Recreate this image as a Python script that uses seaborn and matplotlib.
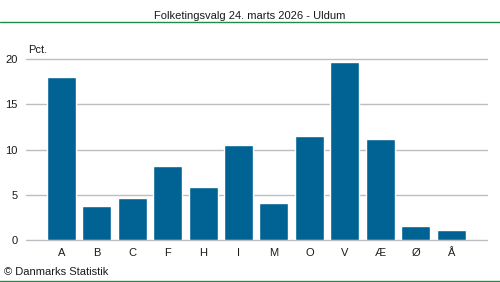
import matplotlib
matplotlib.use("Agg")
import matplotlib.pyplot as plt
import seaborn as sns
import pandas as pd

parties = ["A", "B", "C", "F", "H", "I", "M", "O", "V", "Æ", "Ø", "Å"]
values = [18.0, 3.8, 4.7, 8.2, 5.9, 10.5, 4.1, 11.5, 19.7, 11.2, 1.5, 1.1]
yticks = [0, 5, 10, 15, 20]
title = "Folketingsvalg 24. marts 2026 - Uldum"
unit = "Pct."
credit = "© Danmarks Statistik"

sns.set_theme(style="white")
plt.rcParams["font.family"] = ["Liberation Sans", "DejaVu Sans"]

df = pd.DataFrame({"parti": parties, "pct": values})

fig = plt.figure(figsize=(5.0, 2.82), dpi=100)
ax = fig.add_axes([0.052, 0.149, 0.921, 0.641])

sns.barplot(data=df, x="parti", y="pct", color="#006394", saturation=1,
            width=0.82, ax=ax, zorder=3)

ax.set_xlim(-1, 12)
ax.set_ylim(0, 20)
ax.set_yticks(yticks)
ax.set_yticklabels([str(t) for t in yticks])
ax.yaxis.grid(True, color="#bdbdc3", linewidth=1.0, zorder=0)
ax.set_axisbelow(True)
for s in ax.spines.values():
    s.set_visible(False)
ax.set_xlabel("")
ax.set_ylabel("")
ax.tick_params(axis="both", length=0, labelsize=8, colors="#1a1a1a")
ax.tick_params(axis="y", pad=6)
ax.tick_params(axis="x", pad=6)
for g in ax.get_ygridlines():
    g.set_clip_on(False)

fig.text(0.5, 0.945, title, ha="center", va="center", fontsize=8, color="#1a1a1a")
fig.text(0.056, 0.822, unit, ha="left", va="center", fontsize=8, color="#1a1a1a")
fig.text(0.008, 0.036, credit, ha="left", va="center", fontsize=8, color="#1a1a1a")

fig.add_artist(plt.Line2D([0, 1], [0.922, 0.922], color="#1f8a4c", linewidth=1.0,
                          transform=fig.transFigure))
fig.add_artist(plt.Line2D([0, 1], [0.004, 0.004], color="#1f8a4c", linewidth=1.0,
                          transform=fig.transFigure))

fig.savefig("out.png", dpi=100)
